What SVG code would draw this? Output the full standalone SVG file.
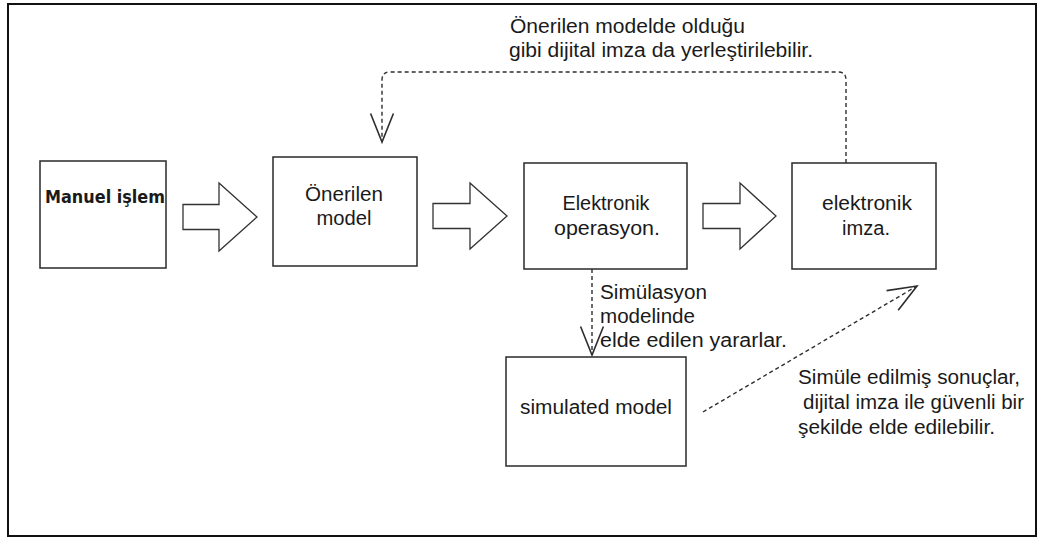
<svg xmlns="http://www.w3.org/2000/svg" width="1041" height="541" viewBox="0 0 1041 541">
  <style>
    .frame { fill: #ffffff; stroke: #111111; stroke-width: 2; }
    .box { fill: #ffffff; stroke: #2a2a2a; stroke-width: 1.5; }
    .block { fill: #ffffff; stroke: #333333; stroke-width: 1.3; stroke-linejoin: miter; }
    .dash { fill: none; stroke: #2e2e2e; stroke-width: 1.4; stroke-dasharray: 4 3; }
    .lbl { font-family: "Liberation Sans", Arial, sans-serif; font-size: 20px; fill: #1a1a1a; }
    .mid { text-anchor: middle; }
    .bold { font-family: "DejaVu Sans", Verdana, sans-serif; font-size: 17px; font-weight: bold; fill: #1a1a1a; }
  </style>
  <defs>
    <marker id="openArrow" markerUnits="userSpaceOnUse" markerWidth="40" markerHeight="40" viewBox="-30 -15 35 30" refX="0" refY="0" orient="auto" overflow="visible">
      <path d="M-25,-10 L0,0 L-25,10" fill="none" stroke="#2e2e2e" stroke-width="1.4"/>
    </marker>
  </defs>

  <rect class="frame" x="8" y="4" width="1028" height="532"/>

  <!-- process nodes -->
  <g id="node-manuel">
    <rect class="box" x="40" y="161" width="126" height="107"/>
    <text class="bold" x="45" y="203" textLength="120" lengthAdjust="spacingAndGlyphs">Manuel işlem</text>
  </g>

  <g id="node-onerilen">
    <rect class="box" x="273" y="157" width="144" height="109"/>
    <text class="lbl mid" x="344" y="201" textLength="78" lengthAdjust="spacingAndGlyphs">Önerilen</text>
    <text class="lbl mid" x="344" y="225" textLength="55" lengthAdjust="spacingAndGlyphs">model</text>
  </g>

  <g id="node-elektronik-operasyon">
    <rect class="box" x="524" y="163" width="163" height="106"/>
    <text class="lbl mid" x="606" y="210" textLength="87" lengthAdjust="spacingAndGlyphs">Elektronik</text>
    <text class="lbl mid" x="607" y="235" textLength="106" lengthAdjust="spacingAndGlyphs">operasyon.</text>
  </g>

  <g id="node-elektronik-imza">
    <rect class="box" x="792" y="163" width="144" height="106"/>
    <text class="lbl mid" x="867" y="210" textLength="90" lengthAdjust="spacingAndGlyphs">elektronik</text>
    <text class="lbl mid" x="866" y="235" textLength="48" lengthAdjust="spacingAndGlyphs">imza.</text>
  </g>

  <g id="node-simulated">
    <rect class="box" x="506" y="357" width="180" height="109"/>
    <text class="lbl mid" x="596" y="414" textLength="152" lengthAdjust="spacingAndGlyphs">simulated model</text>
  </g>

  <!-- block arrows between the main steps -->
  <g id="block-arrows">
    <path class="block" d="M183,204.5 H219 V183 L257,217 L219,251 V229.5 H183 Z"/>
    <path class="block" d="M433,203.5 H470 V183 L507,216 L470,249 V228.5 H433 Z"/>
    <path class="block" d="M703,203.5 H740 V183 L776,216 L740,249 V228.5 H703 Z"/>
  </g>

  <!-- dashed connectors -->
  <g id="connectors">
    <path class="dash" d="M846,163 V80 Q846,72 838,72 H390 Q382,72 382,80 V142" marker-end="url(#openArrow)"/>
    <path class="dash" d="M592,269 V355" marker-end="url(#openArrow)"/>
    <path class="dash" d="M703,412 L917,286" marker-end="url(#openArrow)"/>
  </g>

  <!-- connector labels -->
  <g id="labels">
    <text class="lbl" x="510" y="33" textLength="235" lengthAdjust="spacingAndGlyphs">Önerilen modelde olduğu</text>
    <text class="lbl" x="509" y="57" textLength="304" lengthAdjust="spacingAndGlyphs">gibi dijital imza da yerleştirilebilir.</text>

    <text class="lbl" x="600" y="299" textLength="107" lengthAdjust="spacingAndGlyphs">Simülasyon</text>
    <text class="lbl" x="600" y="323" textLength="95" lengthAdjust="spacingAndGlyphs">modelinde</text>
    <text class="lbl" x="600" y="347" textLength="187" lengthAdjust="spacingAndGlyphs">elde edilen yararlar.</text>

    <text class="lbl" x="798" y="384" textLength="222" lengthAdjust="spacingAndGlyphs">Simüle edilmiş sonuçlar,</text>
    <text class="lbl" x="803" y="409" textLength="221" lengthAdjust="spacingAndGlyphs">dijital imza ile güvenli bir</text>
    <text class="lbl" x="798" y="434" textLength="197" lengthAdjust="spacingAndGlyphs">şekilde elde edilebilir.</text>
  </g>
</svg>
